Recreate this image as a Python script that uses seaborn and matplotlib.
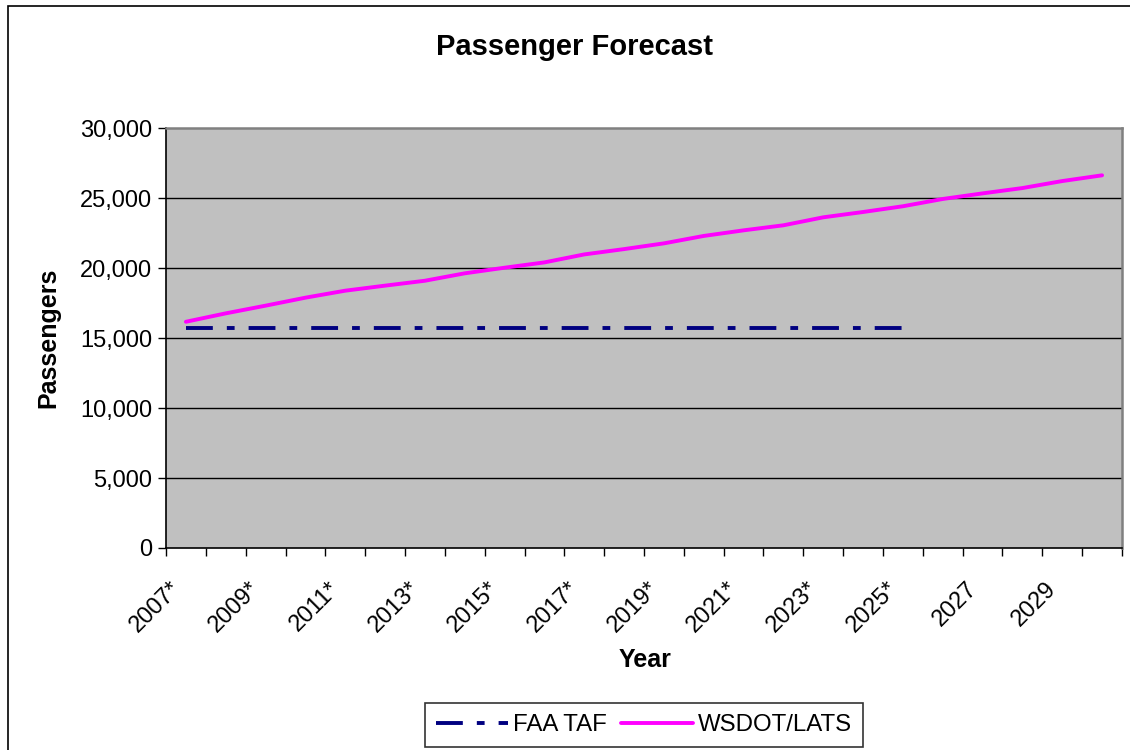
import matplotlib
matplotlib.use("Agg")
import matplotlib.pyplot as plt
import matplotlib.patches as mpatches
import matplotlib.transforms as mtransforms
from matplotlib.ticker import FuncFormatter, FixedLocator
import seaborn as sns
import pandas as pd

# Forecast years (starred years are covered by the FAA TAF)
years = ["2007*", "2008*", "2009*", "2010*", "2011*", "2012*", "2013*", "2014*",
         "2015*", "2016*", "2017*", "2018*", "2019*", "2020*", "2021*", "2022*",
         "2023*", "2024*", "2025*", "2026", "2027", "2028", "2029", "2030"]

faa_taf = [15740] * 19

wsdot_lats = [16160, 16760, 17310, 17880, 18380, 18740, 19090, 19620,
              20020, 20400, 20970, 21350, 21760, 22290, 22690, 23050,
              23620, 24000, 24410, 24930, 25330, 25710, 26210, 26620]

sns.set_theme(style="white")
plt.rcParams["font.family"] = ["Liberation Sans", "DejaVu Sans"]

W, H = 1130, 750
fig = plt.figure(figsize=(W / 100, H / 100), dpi=100)

# outer chart border (runs off the right and bottom edge)
fig.patches.append(mpatches.Rectangle((8 / W, -0.1), 1.2, 1 - 6 / H + 0.1,
                                      transform=fig.transFigure, fill=False,
                                      edgecolor="black", linewidth=1.2))

left, right, top, bottom = 166, 1122, 128, 548
ax = fig.add_axes([left / W, 1 - bottom / H, (right - left) / W, (bottom - top) / H])
ax.set_facecolor("#C0C0C0")

df_faa = pd.DataFrame({"idx": range(len(faa_taf)), "val": faa_taf})
df_ws = pd.DataFrame({"idx": range(len(wsdot_lats)), "val": wsdot_lats})

lw = 2.8
sns.lineplot(data=df_faa, x="idx", y="val", ax=ax, color="#000080",
             linewidth=lw, label="FAA TAF", legend=False)
ax.lines[-1].set_linestyle((0, (6.9, 3.6, 2.0, 3.6)))
ax.lines[-1].set_dash_capstyle("butt")
sns.lineplot(data=df_ws, x="idx", y="val", ax=ax, color="#FF00FF",
             linewidth=lw, label="WSDOT/LATS", legend=False)

ax.set_xlim(-0.5, len(years) - 0.5)
ax.set_ylim(0, 30000)

# y axis
ax.set_yticks(range(0, 30001, 5000))
ax.yaxis.set_major_formatter(FuncFormatter(lambda v, p: f"{int(v):,}"))
for yv in range(5000, 30000, 5000):
    ax.axhline(yv, color="black", linewidth=1.0, zorder=0.5)

# x axis: tick marks between categories, labels on every other category
ax.xaxis.set_major_locator(FixedLocator(list(range(0, len(years), 2))))
ax.set_xticklabels(years[::2])
ax.xaxis.set_minor_locator(FixedLocator([i - 0.5 for i in range(len(years) + 1)]))
ax.tick_params(axis="x", which="major", length=0, pad=27, labelsize=17,
               labelcolor="black")
ax.tick_params(axis="x", which="minor", length=6, width=1, color="black",
               direction="out", bottom=True)
ax.tick_params(axis="y", which="major", length=6, width=1, color="black",
               direction="out", left=True, labelsize=17, labelcolor="black", pad=4)
shift = mtransforms.ScaledTranslation(-9 / 100, 0, fig.dpi_scale_trans)
for lab in ax.get_xticklabels():
    lab.set_rotation(45)
    lab.set_ha("right")
    lab.set_va("center")
    lab.set_rotation_mode("anchor")
    lab.set_transform(lab.get_transform() + shift)

for side in ["left", "bottom"]:
    ax.spines[side].set_color("black")
    ax.spines[side].set_linewidth(1.2)
for side in ["top", "right"]:
    ax.spines[side].set_color("#808080")
    ax.spines[side].set_linewidth(1.8)

ax.set_xlabel("")
ax.set_ylabel("")
fig.text(645 / W, 1 - 660 / H, "Year", ha="center", va="center",
         fontsize=18, fontweight="bold", color="black")
fig.text(48 / W, 1 - 338 / H, "Passengers", ha="center", va="center",
         rotation=90, fontsize=18, fontweight="bold", color="black")
fig.text(575 / W, 1 - 47 / H, "Passenger Forecast", ha="center", va="center",
         fontsize=21, fontweight="bold", color="black")

handles = ax.lines[:2]
leg = fig.legend(handles, ["FAA TAF", "WSDOT/LATS"], ncol=2,
                 loc="center", bbox_to_anchor=(644 / W, 1 - 725 / H),
                 fontsize=17.3, frameon=True, fancybox=False, shadow=False,
                 handlelength=3.0, handletextpad=0.2, columnspacing=0.6,
                 borderpad=0.45, borderaxespad=0)
leg.get_frame().set_edgecolor("black")
leg.get_frame().set_linewidth(1.2)
for t in leg.get_texts():
    t.set_color("black")

fig.savefig("out.png", dpi=100, facecolor="white")
